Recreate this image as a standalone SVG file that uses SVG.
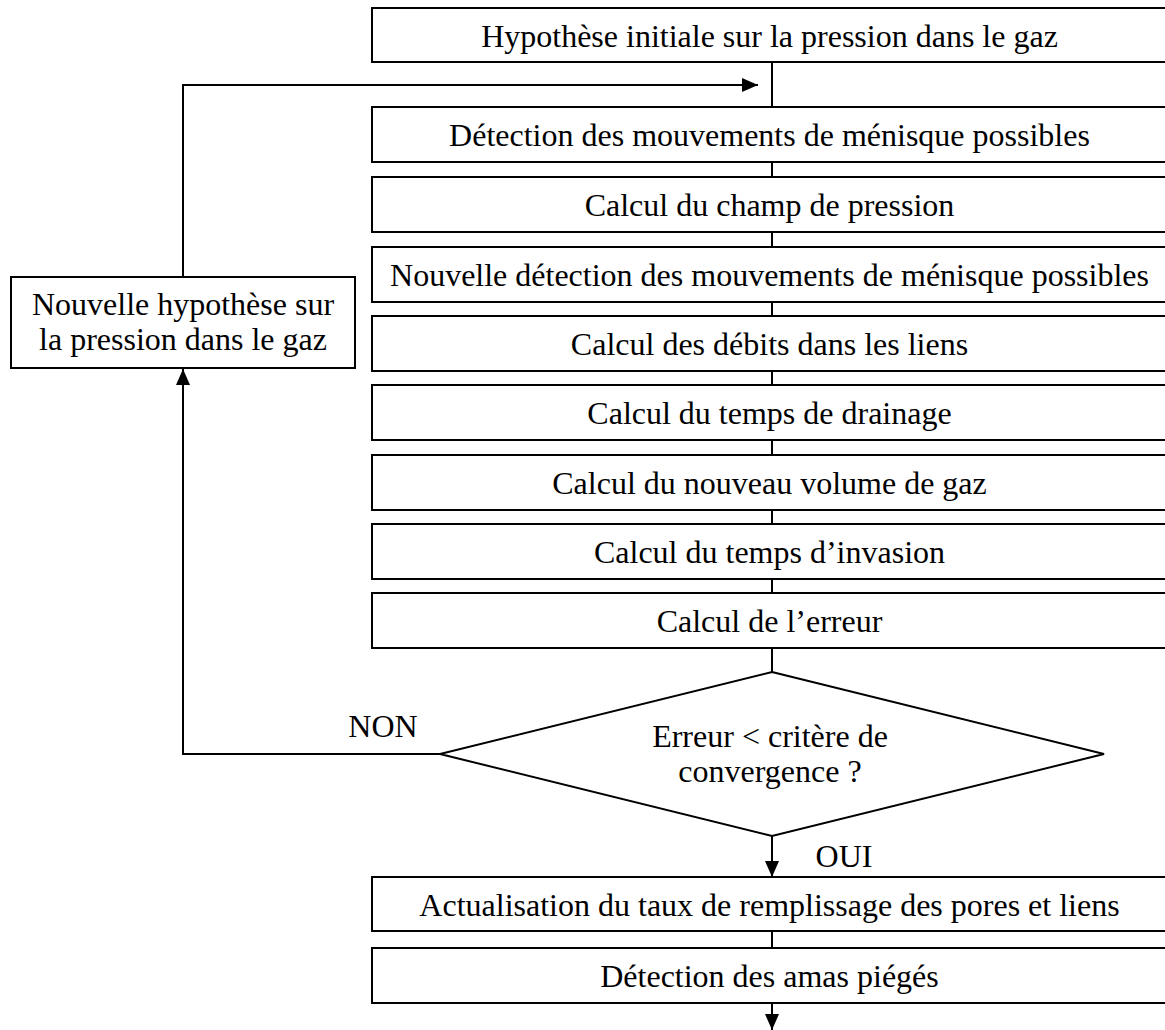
<svg xmlns="http://www.w3.org/2000/svg" width="1165" height="1030" viewBox="0 0 1165 1030">
<style>
.box{fill:#fff;stroke:#000;stroke-width:2}
.t{font-family:"Liberation Serif","Times New Roman",serif;font-size:32px;fill:#000;text-anchor:middle}
.c{fill:none;stroke:#000;stroke-width:2}
</style>
<defs>
<marker id="ah" markerUnits="userSpaceOnUse" markerWidth="16" markerHeight="14" refX="16" refY="7" orient="auto">
<path d="M0,0 L16,7 L0,14 z" fill="#000"/>
</marker>
</defs>
<rect width="1165" height="1030" fill="#fff"/>
<g id="connectors">
<line class="c" x1="772" y1="62" x2="772" y2="107"/>
<line class="c" x1="772" y1="162" x2="772" y2="177"/>
<line class="c" x1="772" y1="232" x2="772" y2="247"/>
<line class="c" x1="772" y1="302" x2="772" y2="316"/>
<line class="c" x1="772" y1="371" x2="772" y2="385"/>
<line class="c" x1="772" y1="440" x2="772" y2="455"/>
<line class="c" x1="772" y1="510" x2="772" y2="524"/>
<line class="c" x1="772" y1="579" x2="772" y2="593"/>
<line class="c" x1="772" y1="648" x2="772" y2="672"/>
<line class="c" x1="772" y1="836" x2="772" y2="877" marker-end="url(#ah)"/>
<line class="c" x1="772" y1="931" x2="772" y2="948"/>
<line class="c" x1="772" y1="1003" x2="772" y2="1030" marker-end="url(#ah)"/>
<polyline class="c" points="440,754 183,754 183,369" marker-end="url(#ah)"/>
<polyline class="c" points="183,277 183,85 758,85" marker-end="url(#ah)"/>
<text class="t" x="383" y="737">NON</text>
<text class="t" x="844" y="867">OUI</text>
</g>
<g id="n1"><rect class="box" x="372" y="8" width="795" height="54"/><text class="t" x="769.5" y="47">Hypothèse initiale sur la pression dans le gaz</text></g>
<g id="n2"><rect class="box" x="372" y="107" width="795" height="55"/><text class="t" x="769.5" y="145.5">Détection des mouvements de ménisque possibles</text></g>
<g id="n3"><rect class="box" x="372" y="177" width="795" height="55"/><text class="t" x="769.5" y="215.5">Calcul du champ de pression</text></g>
<g id="n4"><rect class="box" x="372" y="247" width="795" height="55"/><text class="t" x="769.5" y="285.5">Nouvelle détection des mouvements de ménisque possibles</text></g>
<g id="n5"><rect class="box" x="372" y="316" width="795" height="55"/><text class="t" x="769.5" y="354.5">Calcul des débits dans les liens</text></g>
<g id="n6"><rect class="box" x="372" y="385" width="795" height="55"/><text class="t" x="769.5" y="423.5">Calcul du temps de drainage</text></g>
<g id="n7"><rect class="box" x="372" y="455" width="795" height="55"/><text class="t" x="769.5" y="493.5">Calcul du nouveau volume de gaz</text></g>
<g id="n8"><rect class="box" x="372" y="524" width="795" height="55"/><text class="t" x="769.5" y="562.5">Calcul du temps d’invasion</text></g>
<g id="n9"><rect class="box" x="372" y="593" width="795" height="55"/><text class="t" x="769.5" y="631.5">Calcul de l’erreur</text></g>
<g id="n10"><polygon class="box" points="772,672 1104,754 772,836 440,754"/><text class="t" x="770" y="747">Erreur &lt; critère de</text><text class="t" x="770" y="782">convergence ?</text></g>
<g id="n11"><rect class="box" x="11" y="277" width="344" height="91"/><text class="t" x="183" y="315">Nouvelle hypothèse sur</text><text class="t" x="183" y="350">la pression dans le gaz</text></g>
<g id="n12"><rect class="box" x="372" y="877" width="795" height="54"/><text class="t" x="769.5" y="915.5">Actualisation du taux de remplissage des pores et liens</text></g>
<g id="n13"><rect class="box" x="372" y="948" width="795" height="55"/><text class="t" x="769.5" y="986.5">Détection des amas piégés</text></g>
</svg>
